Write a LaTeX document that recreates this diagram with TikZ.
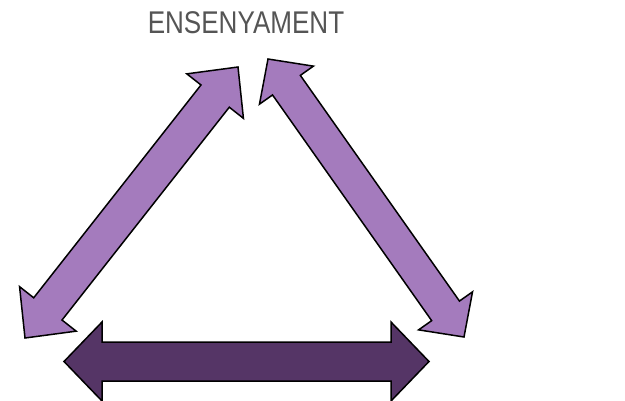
\documentclass[tikz,border=0pt]{standalone}
\usepackage{fontspec}
\newfontfamily\narrowsans[FakeStretch=0.83]{Liberation Sans}
\usetikzlibrary{calc}
\definecolor{lilac}{RGB}{164,123,189}
\definecolor{plum}{RGB}{85,53,102}
\definecolor{caption}{RGB}{85,85,85}
% Double-headed block arrow between two tip coordinates.
% #1 style, #2 tip A, #3 tip B, #4 head length, #5 shaft half-width, #6 head half-width
\newcommand{\twinarrow}[6]{%
  \draw[#1] (#2)
    -- ($(#2)!#4!(#3)!#6!90:(#3)$)
    -- ($(#2)!#4!(#3)!#5!90:(#3)$)
    -- ($(#3)!#4!(#2)!#5!-90:(#2)$)
    -- ($(#3)!#4!(#2)!#6!-90:(#2)$)
    -- (#3)
    -- ($(#3)!#4!(#2)!#6!90:(#2)$)
    -- ($(#3)!#4!(#2)!#5!90:(#2)$)
    -- ($(#2)!#4!(#3)!#5!-90:(#3)$)
    -- ($(#2)!#4!(#3)!#6!-90:(#3)$)
    -- cycle;}
\begin{document}
\begin{tikzpicture}[x=1pt,y=-1pt,
  arrowbody/.style={draw=black,line width=1.5pt,line join=miter},
  light/.style={arrowbody,fill=lilac},
  dark/.style={arrowbody,fill=plum},
  title/.style={text=caption,font=\narrowsans\fontsize{31.4}{36}\selectfont,inner sep=0pt}]
\useasboundingbox (0,0) rectangle (625,400);
\node[title] (teach) at (246,22.5) {ENSENYAMENT};
% tips of the three arrows
\coordinate (lt) at (238,67);
\coordinate (lb) at (25,338);
\coordinate (rt) at (268,59);
\coordinate (rb) at (464,337);
\coordinate (bl) at (64,361.5);
\coordinate (br) at (429,361.5);
\twinarrow{light}{lt}{lb}{37pt}{18pt}{36pt}
\twinarrow{light}{rt}{rb}{32pt}{17pt}{33pt}
\twinarrow{dark}{bl}{br}{38pt}{19.5pt}{39.5pt}
\end{tikzpicture}
\end{document}
